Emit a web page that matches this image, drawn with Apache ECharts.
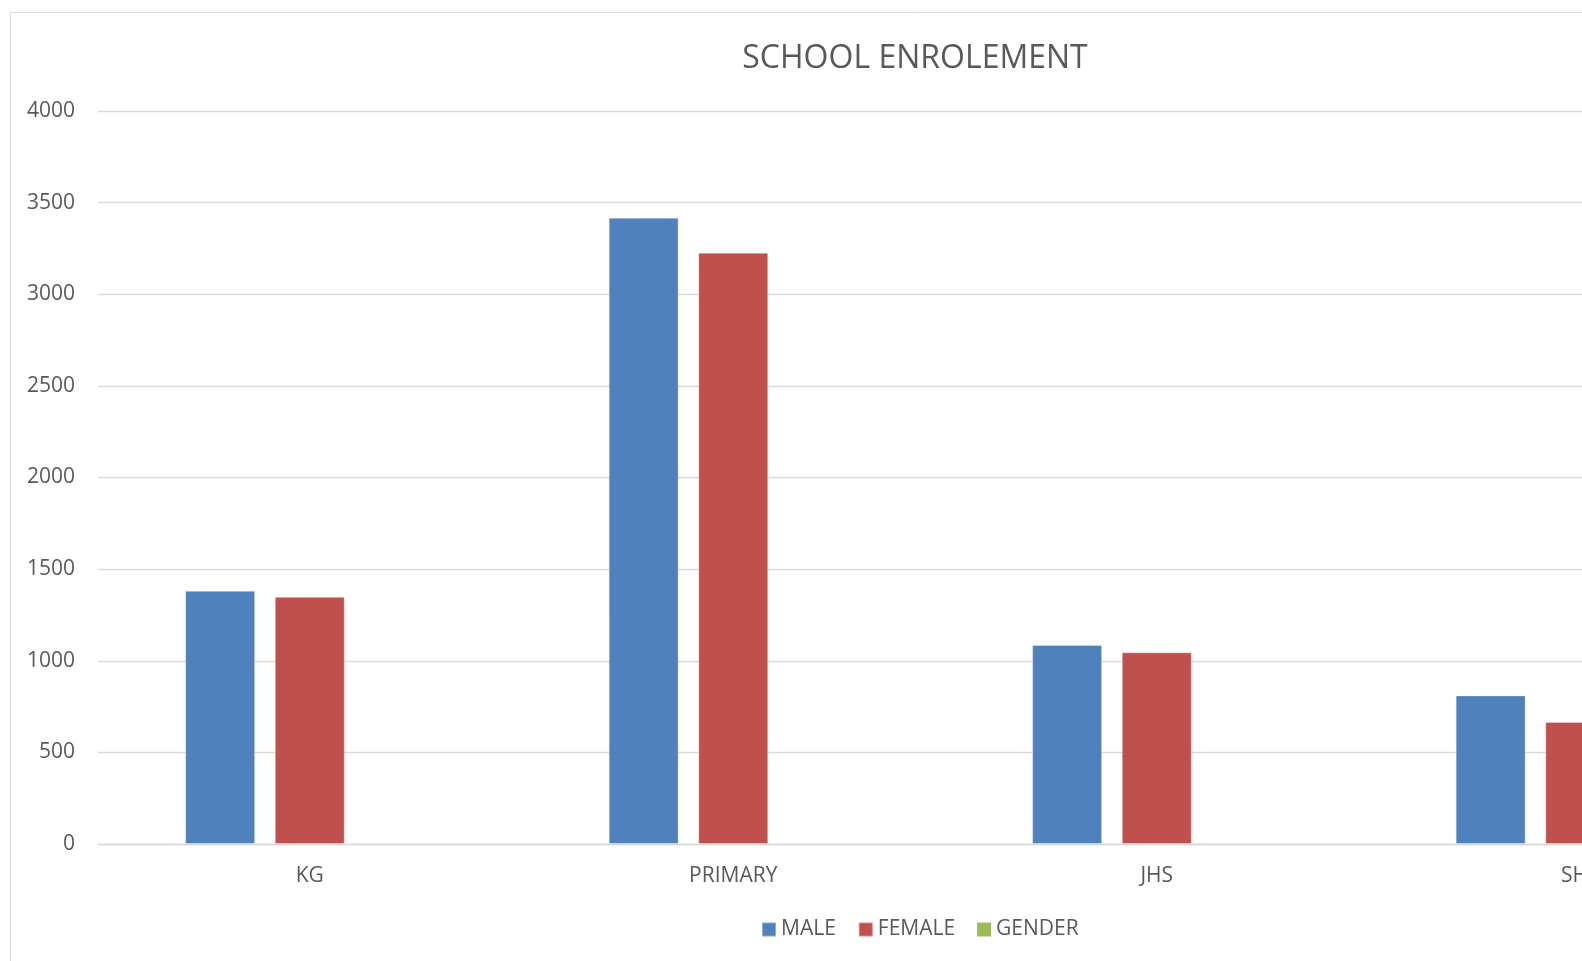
<!DOCTYPE html>
<html>
<head>
<meta charset="utf-8">
<script src="https://cdn.jsdelivr.net/npm/echarts@6/dist/echarts.min.js"></script>
<style>
html,body{margin:0;padding:0;background:#fff;overflow:hidden;width:1582px;height:961px;}
#chart{position:absolute;left:0;top:0;width:1840px;height:961px;}
</style>
</head>
<body>
<div id="chart"></div>
<script>
const categories = ['KG', 'PRIMARY', 'JHS', 'SHS'];
const maleValues = [1382, 3418, 1086, 811];
const femaleValues = [1349, 3227, 1046, 666];
const genderValues = [null, null, null, null];
const seriesNames = ['MALE', 'FEMALE', 'GENDER'];
const yTicks = { min: 0, max: 4000, interval: 500 };

const FONT = '"Open Sans", sans-serif';
const TEXT = '#595959';
const GRID = '#d9d9d9';

const chart = echarts.init(document.getElementById('chart'), null, { renderer: 'canvas' });
chart.setOption({
  animation: false,
  backgroundColor: '#fff',
  graphic: [{
    type: 'rect',
    shape: { x: 10.5, y: 12.5, width: 1810, height: 1000 },
    style: { fill: 'none', stroke: GRID, lineWidth: 1 },
    silent: true, z: -1
  }],
  title: {
    text: 'SCHOOL ENROLEMENT',
    left: 915, top: 43, textAlign: 'center', padding: 0,
    textStyle: { fontFamily: FONT, fontSize: 32, fontWeight: 'normal', color: TEXT }
  },
  legend: {
    data: seriesNames,
    left: 761, top: 919, padding: 0,
    orient: 'horizontal',
    itemWidth: 14, itemHeight: 14, itemGap: 22,
    icon: 'rect',
    textStyle: { fontFamily: FONT, fontSize: 21, color: TEXT }
  },
  grid: { left: 98, top: 111, width: 1694, height: 733, containLabel: false },
  xAxis: {
    type: 'category', data: categories,
    axisLine: { show: true, lineStyle: { color: GRID, width: 1.3 } },
    axisTick: { show: false },
    axisLabel: { fontFamily: FONT, fontSize: 21, color: TEXT, margin: 22 },
    splitLine: { show: false }
  },
  yAxis: {
    type: 'value', min: yTicks.min, max: yTicks.max, interval: yTicks.interval,
    axisLine: { show: false }, axisTick: { show: false },
    axisLabel: { fontFamily: FONT, fontSize: 21, color: TEXT, margin: 23, padding: [4, 0, 0, 0], formatter: v => String(v) },
    splitLine: { lineStyle: { color: GRID, width: 1.3 } }
  },
  series: [
    { name: seriesNames[0], type: 'bar', data: maleValues, barWidth: 70, barGap: '28%',
      itemStyle: { color: '#4F81BD', borderColor: 'rgba(255,255,255,0.35)', borderWidth: 1 } },
    { name: seriesNames[1], type: 'bar', data: femaleValues, barWidth: 70, barGap: '28%',
      itemStyle: { color: '#C0504D', borderColor: 'rgba(255,255,255,0.35)', borderWidth: 1 } },
    { name: seriesNames[2], type: 'bar', data: genderValues, barWidth: 70, barGap: '28%',
      itemStyle: { color: '#9BBB59' } }
  ]
});
</script>
</body>
</html>
